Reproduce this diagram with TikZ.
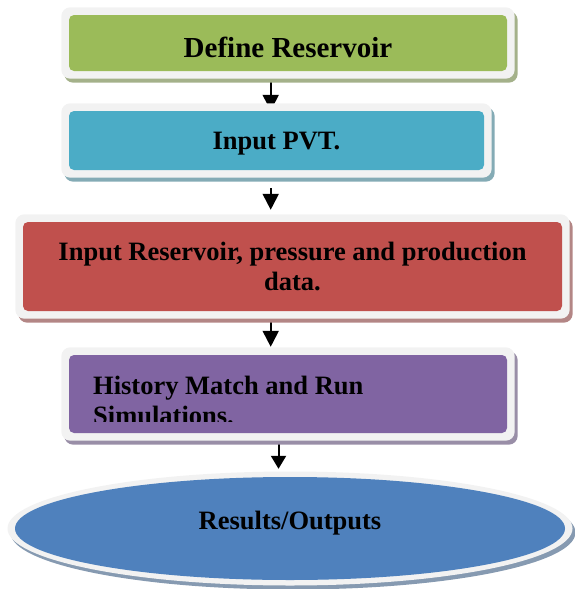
\documentclass[tikz,border=0pt]{standalone}
\usepackage{fontspec}
\setmainfont{Liberation Serif}
\usetikzlibrary{arrows.meta,shapes.geometric,backgrounds}
\definecolor{cgreen}{HTML}{9BBB59}
\definecolor{ccyan}{HTML}{4BACC6}
\definecolor{cred}{HTML}{C0504D}
\definecolor{cpurple}{HTML}{8064A2}
\definecolor{cblue}{HTML}{4F81BD}
\definecolor{framecol}{HTML}{F2F2F2}
\colorlet{sgreen}{cgreen!50!gray!80!white}
\colorlet{scyan}{ccyan!50!gray!80!white}
\colorlet{sred}{cred!50!gray!80!white}
\colorlet{spurple}{cpurple!50!gray!80!white}
\colorlet{sblue}{cblue!50!gray!80!white}
\begin{document}
\begin{tikzpicture}[x=1pt,y=-1pt,
  stepbox/.style={rectangle, rounded corners=5pt, fill=#1, inner sep=0pt, text=black,
    font=\bfseries\fontsize{26.5}{30}\selectfont},
  txt/.style={inner sep=0pt, text=black, font=\bfseries\fontsize{26.5}{30}\selectfont},
  arr/.style={line width=2pt, -{Triangle[width=16pt,length=16pt]}},
  arrsmall/.style={line width=2pt, -{Triangle[width=15pt,length=13pt]}},
]
\useasboundingbox (0,0) rectangle (574,589);

% boxes
\node[stepbox=cgreen, minimum width=438pt, minimum height=56pt,
      font=\bfseries\fontsize{29}{32}\selectfont, text height=28pt, text depth=0pt]
  (b1) at (288,43) {Define Reservoir};
\node[stepbox=ccyan, minimum width=415pt, minimum height=59pt,
      text height=17pt, text depth=0pt]
  (b2) at (276.5,140.5) {Input PVT.};
\node[stepbox=cred, minimum width=539pt, minimum height=89pt, align=center]
  (b3) at (292.5,266.5) {Input Reservoir, pressure and production\\data.};
\node[stepbox=cpurple, minimum width=438pt, minimum height=78pt]
  (b4) at (288,394) {};
\begin{scope}
  \clip (b4.north west) rectangle ([yshift=12pt]b4.south east);
  \node[txt, anchor=base west] (t4a) at (93,394) {History Match and Run};
  \node[txt, anchor=base west] (t4b) at (93,424) {Simulations.};
\end{scope}
\node[ellipse, fill=cblue, inner sep=0pt, minimum width=550pt, minimum height=103pt,
      text=black, font=\bfseries\fontsize{26.5}{30}\selectfont,
      text height=12pt, text depth=11pt]
  (res) at (290,528.5) {Results/Outputs};

\begin{scope}[on background layer]
  % connectors
  \draw[arr] ([xshift=-17.3pt]b1.south) -- ([xshift=-5.8pt]b2.north);
  \draw[arr] ([shift={(-5.8pt,-18pt)}]b2.south) -- ([shift={(-21.8pt,12pt)}]b3.north);
  \draw[arr] ([xshift=-21.8pt]b3.south) -- ([shift={(-17.3pt,8pt)}]b4.north);
  \draw[arrsmall] ([xshift=-9.5pt]b4.south) -- ([shift={(-11.5pt,8pt)}]res.north);
  % shadows and frames
  \foreach \n/\c in {b1/sgreen, b2/scyan, b3/sred, b4/spurple} {
    \fill[\c, rounded corners=9pt] ([shift={(-4.5pt,-11.5pt)}]\n.south west)
      rectangle ([shift={(10.5pt,3.5pt)}]\n.north east);
    \fill[framecol, rounded corners=9pt] ([shift={(-7.5pt,-7.5pt)}]\n.south west)
      rectangle ([shift={(7.5pt,7.5pt)}]\n.north east);
  }
  \fill[sblue] ([shift={(3pt,-4pt)}]res.center) ellipse [x radius=282.5pt, y radius=57pt];
  \fill[framecol] (res.center) ellipse [x radius=282.5pt, y radius=57pt];
\end{scope}
\end{tikzpicture}
\end{document}
